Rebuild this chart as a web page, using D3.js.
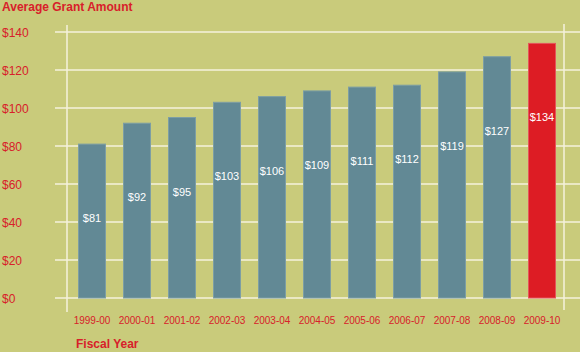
<!DOCTYPE html>
<html>
<head>
<meta charset="utf-8">
<script src="https://cdn.jsdelivr.net/npm/d3@7"></script>
<style>
  body { margin: 0; background: #c9cb7b; }
  svg { display: block; font-family: "Liberation Sans", Arial, sans-serif; }
</style>
</head>
<body>
<svg id="chart"></svg>
<script>
// fiscal years and average grant amount (dollars)
var years = ["1999-00","2000-01","2001-02","2002-03","2003-04","2004-05",
             "2005-06","2006-07","2007-08","2008-09","2009-10"];
var amounts = [81, 92, 95, 103, 106, 109, 111, 112, 119, 127, 134];
var yTicks = [0, 20, 40, 60, 80, 100, 120, 140];

var screen = {width:580, height:352};
var red = "#d8202a";

var svg = d3.select("#chart")
    .attr("width", screen.width)
    .attr("height", screen.height);

var xScale = d3.scaleBand()
    .domain(years)
    .range([69.5, 564.5])
    .paddingInner(0.4)
    .paddingOuter(0.2);

var yScale = d3.scaleLinear()
    .domain([0, 140])
    .range([298, 32]);

// horizontal grid lines
svg.append("g")
    .selectAll("line")
    .data(yTicks)
    .enter()
    .append("line")
    .attr("x1", 55)
    .attr("x2", screen.width)
    .attr("y1", function(d){ return yScale(d); })
    .attr("y2", function(d){ return yScale(d); })
    .attr("stroke", "#f4f2dc")
    .attr("stroke-width", 1.5);

// the two vertical frame lines
svg.append("line")
    .attr("x1", 67).attr("x2", 67)
    .attr("y1", 25).attr("y2", 312)
    .attr("stroke", "#f4f2dc").attr("stroke-width", 1.5);
svg.append("line")
    .attr("x1", 564).attr("x2", 564)
    .attr("y1", 24).attr("y2", 310)
    .attr("stroke", "#f4f2dc").attr("stroke-width", 1.5);

// y tick labels
svg.append("g")
    .selectAll("text")
    .data(yTicks)
    .enter()
    .append("text")
    .attr("x", 2)
    .attr("y", function(d){ return yScale(d) + 5; })
    .attr("fill", red)
    .attr("font-size", 12)
    .text(function(d){ return "$" + d; });

// bars
var last = years[years.length - 1];
svg.append("g")
    .selectAll("rect")
    .data(years)
    .enter()
    .append("rect")
    .attr("x", function(d){ return xScale(d); })
    .attr("width", xScale.bandwidth())
    .attr("y", function(d,i){ return yScale(amounts[i]); })
    .attr("height", function(d,i){ return yScale(0) - yScale(amounts[i]); })
    .attr("fill", function(d){ return d == last ? "#dd1c24" : "#628995"; })
    .attr("stroke", function(d){ return d == last ? "#e4555a" : "#7d9ea4"; })
    .attr("stroke-width", 1);

// value labels sit a fixed distance under the bar top
svg.append("g")
    .selectAll("text")
    .data(years)
    .enter()
    .append("text")
    .attr("x", function(d){ return xScale(d) + xScale.bandwidth()/2; })
    .attr("y", function(d,i){ return yScale(amounts[i]) + 78; })
    .attr("text-anchor", "middle")
    .attr("fill", "white")
    .attr("font-size", 11)
    .text(function(d,i){ return "$" + amounts[i]; });

// x labels
svg.append("g")
    .selectAll("text")
    .data(years)
    .enter()
    .append("text")
    .attr("x", function(d){ return xScale(d) + xScale.bandwidth()/2; })
    .attr("y", 324)
    .attr("text-anchor", "middle")
    .attr("fill", red)
    .attr("font-size", 10)
    .text(function(d){ return d; });

// titles
svg.append("text")
    .attr("x", 2).attr("y", 11)
    .attr("fill", red)
    .attr("font-size", 12)
    .attr("font-weight", "bold")
    .text("Average Grant Amount");

svg.append("text")
    .attr("x", 76).attr("y", 348)
    .attr("fill", red)
    .attr("font-size", 12)
    .attr("font-weight", "bold")
    .text("Fiscal Year");
</script>
</body>
</html>
